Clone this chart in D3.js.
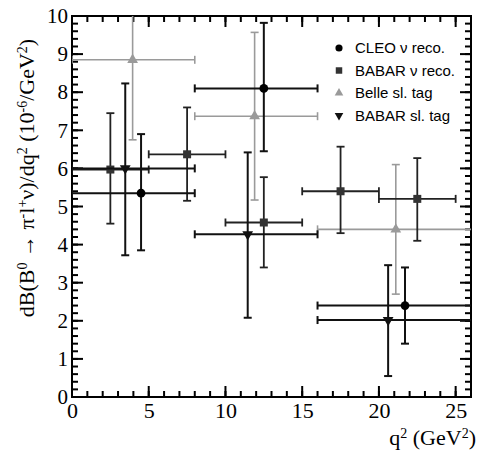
<!DOCTYPE html>
<html>
<head>
<meta charset="utf-8">
<script src="https://cdn.jsdelivr.net/npm/d3@7"></script>
<style>
  body { margin: 0; background: #fff; }
  svg { display: block; }
</style>
</head>
<body>
<svg width="479" height="452"></svg>
<script>
// CLEO nu reco.
const cleoX = [4.5, 12.5, 21.7];
const cleoY = [5.35, 8.1, 2.4];
const cleoXLo = [0, 8, 16];
const cleoXHi = [8, 16, 26.4];
const cleoYLo = [3.85, 6.45, 1.4];
const cleoYHi = [6.9, 9.82, 3.4];

// BABAR nu reco.
const bnuX = [2.5, 7.5, 12.5, 17.5, 22.5];
const bnuY = [5.97, 6.37, 4.58, 5.4, 5.2];
const bnuXLo = [0, 5, 10, 15, 20];
const bnuXHi = [5, 10, 15, 20, 25];
const bnuYLo = [4.55, 5.15, 3.4, 4.3, 4.1];
const bnuYHi = [7.45, 7.6, 5.77, 6.57, 6.27];

// Belle sl. tag
const belleX = [3.95, 11.9, 21.1];
const belleY = [8.85, 7.37, 4.4];
const belleXLo = [0, 8, 16];
const belleXHi = [8, 16, 26.4];
const belleYLo = [6.75, 5.17, 2.7];
const belleYHi = [10.9, 9.57, 6.1];

// BABAR sl. tag
const bslX = [3.47, 11.45, 20.6];
const bslY = [6.0, 4.27, 2.02];
const bslXLo = [0, 8, 16];
const bslXHi = [8, 16, 26.4];
const bslYLo = [3.72, 2.08, 0.55];
const bslYHi = [8.23, 6.42, 3.46];

const legendLabels = ['CLEO \u03bd reco.', 'BABAR \u03bd reco.', 'Belle sl. tag', 'BABAR sl. tag'];

const xMinor = d3.range(0, 27, 1);
const xMajor = d3.range(0, 27, 5);
const yMinor = d3.range(0, 10.01, 0.2);
const yMajor = d3.range(0, 11, 1);

const svg = d3.select('svg');
const mLeft = 72, mTop = 16, mRight = 471, mBottom = 397;

const x = d3.scaleLinear().domain([0, 26]).range([mLeft, mRight]);
const y = d3.scaleLinear().domain([0, 10]).range([mBottom, mTop]);

svg.append('clipPath').attr('id', 'clip')
  .append('rect')
    .attr('x', mLeft).attr('y', mTop)
    .attr('width', mRight - mLeft).attr('height', mBottom - mTop);

const serif = '"Liberation Serif", "Times New Roman", serif';
const sans = '"Liberation Sans", Arial, sans-serif';

// tick labels from d3 axes
function styleAxis(g) {
  g.select('.domain').remove();
  g.selectAll('.tick line').remove();
  g.selectAll('.tick text').attr('font-family', serif).attr('fill', '#000');
}

svg.append('g').attr('transform', `translate(0,${mBottom})`)
  .call(d3.axisBottom(x).tickValues(xMajor).tickSize(0).tickPadding(5))
  .call(styleAxis)
  .selectAll('text').attr('font-size', 22);

svg.append('g').attr('transform', `translate(${mLeft},0)`)
  .call(d3.axisLeft(y).tickValues(yMajor).tickSize(0).tickPadding(4))
  .call(styleAxis)
  .selectAll('text').attr('font-size', 21);

// inward tick marks on all four sides
const ticks = svg.append('g').attr('stroke', '#000').attr('stroke-width', 2);
function xTicks(vals, len) {
  ticks.selectAll(null).data(vals).join('line')
    .attr('x1', d => x(d)).attr('x2', d => x(d))
    .attr('y1', mBottom).attr('y2', mBottom - len);
  ticks.selectAll(null).data(vals).join('line')
    .attr('x1', d => x(d)).attr('x2', d => x(d))
    .attr('y1', mTop).attr('y2', mTop + len);
}
function yTicks(vals, len) {
  ticks.selectAll(null).data(vals).join('line')
    .attr('y1', d => y(d)).attr('y2', d => y(d))
    .attr('x1', mLeft).attr('x2', mLeft + len);
  ticks.selectAll(null).data(vals).join('line')
    .attr('y1', d => y(d)).attr('y2', d => y(d))
    .attr('x1', mRight).attr('x2', mRight - len);
}
xTicks(xMinor, 6);
xTicks(xMajor, 11);
yTicks(yMinor, 6);
yTicks(yMajor, 11);

// frame
svg.append('rect')
  .attr('x', mLeft).attr('y', mTop)
  .attr('width', mRight - mLeft).attr('height', mBottom - mTop)
  .attr('fill', 'none').attr('stroke', '#000').attr('stroke-width', 2);

// error bars
const plot = svg.append('g').attr('clip-path', 'url(#clip)');

function series(xs, ys, xlo, xhi, ylo, yhi, color, width) {
  const pts = xs.map((d, i) => ({ x: d, y: ys[i], xlo: xlo[i], xhi: xhi[i], ylo: ylo[i], yhi: yhi[i] }));
  const g = plot.append('g').attr('stroke', color).attr('stroke-width', width).attr('fill', 'none');
  const cap = 4;
  pts.forEach(p => {
    g.append('line').attr('x1', x(p.xlo)).attr('x2', x(p.xhi)).attr('y1', y(p.y)).attr('y2', y(p.y));
    g.append('line').attr('x1', x(p.x)).attr('x2', x(p.x)).attr('y1', y(p.ylo)).attr('y2', y(p.yhi));
    [p.xlo, p.xhi].forEach(v => g.append('line')
      .attr('x1', x(v)).attr('x2', x(v)).attr('y1', y(p.y) - cap).attr('y2', y(p.y) + cap));
    [p.ylo, p.yhi].forEach(v => g.append('line')
      .attr('x1', x(p.x) - cap).attr('x2', x(p.x) + cap).attr('y1', y(v)).attr('y2', y(v)));
  });
  return pts;
}

const marker = {
  circle: d3.symbol().type(d3.symbolCircle).size(60),
  square: d3.symbol().type(d3.symbolSquare).size(64),
  triangle: d3.symbol().type(d3.symbolTriangle).size(50)
};

function markers(pts, shape, color, flip) {
  plot.selectAll(null).data(pts).join('path')
    .attr('d', marker[shape])
    .attr('transform', d => `translate(${x(d.x)},${y(d.y)})${flip ? ' rotate(180)' : ''}`)
    .attr('fill', color);
}

const belleC = '#9a9a9a', bnuC = '#333';

const pBelle = series(belleX, belleY, belleXLo, belleXHi, belleYLo, belleYHi, belleC, 1.6);
markers(pBelle, 'triangle', belleC, false);
const pBnu = series(bnuX, bnuY, bnuXLo, bnuXHi, bnuYLo, bnuYHi, '#222', 1.8);
markers(pBnu, 'square', bnuC, false);
const pBsl = series(bslX, bslY, bslXLo, bslXHi, bslYLo, bslYHi, '#111', 2);
markers(pBsl, 'triangle', '#111', true);
const pCleo = series(cleoX, cleoY, cleoXLo, cleoXHi, cleoYLo, cleoYHi, '#111', 2);
markers(pCleo, 'circle', '#000', false);

// legend
const legShapes = [['circle', '#000', false], ['square', bnuC, false], ['triangle', belleC, false], ['triangle', '#111', true]];
const leg = svg.append('g');
legendLabels.forEach((t, i) => {
  const ly = 48 + i * 22.5;
  const [s, c, f] = legShapes[i];
  leg.append('path')
    .attr('d', d3.symbol().type(s === 'circle' ? d3.symbolCircle : s === 'square' ? d3.symbolSquare : d3.symbolTriangle)
      .size(s === 'circle' ? 40 : s === 'square' ? 42 : 32))
    .attr('transform', `translate(339,${ly})${f ? ' rotate(180)' : ''}`)
    .attr('fill', c);
  leg.append('text')
    .attr('x', 355).attr('y', ly + 5)
    .attr('font-family', sans).attr('font-size', 15)
    .text(t);
});

// axis titles
const xt = svg.append('text')
  .attr('x', 476).attr('y', 445)
  .attr('text-anchor', 'end')
  .attr('font-family', serif).attr('font-size', 22);
xt.append('tspan').text('q');
xt.append('tspan').attr('baseline-shift', 'super').attr('font-size', 14).text('2');
xt.append('tspan').text(' (GeV');
xt.append('tspan').attr('baseline-shift', 'super').attr('font-size', 14).text('2');
xt.append('tspan').text(')');

const yt = svg.append('text')
  .attr('transform', 'translate(34,178) rotate(-90)')
  .attr('text-anchor', 'middle')
  .attr('font-family', serif).attr('font-size', 22);
const parts = [
  ['dB(B', false], ['0', true], [' \u2192 ', false], ['\u03c0', false], ['-', true], ['l', false], ['+', true],
  ['\u03bd)/dq', false], ['2', true], [' (10', false], ['-6', true], ['/GeV', false], ['2', true], [')', false]
];
parts.forEach(([s, sup]) => {
  const ts = yt.append('tspan').text(s);
  if (sup) ts.attr('baseline-shift', 'super').attr('font-size', 14);
});
</script>
</body>
</html>
